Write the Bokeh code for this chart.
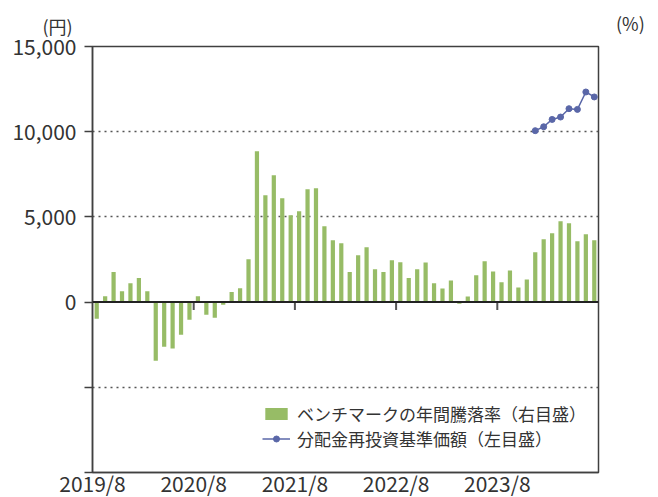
from bokeh.plotting import figure
from bokeh.models import (Range1d, LinearAxis, FixedTicker, Span, Legend, LegendItem, Title)
from bokeh.embed import file_html
from bokeh.resources import INLINE

# ---- data ----
bench_pct = [-9.8, 3.5, 17.6, 6.4, 11.1, 14.1, 6.4, -34.4, -26.2, -27.3, -19.1, -10.4,
             3.5, -7.4, -9.2, -1.6, 5.9, 8.2, 25.2, 88.5, 62.7, 74.4, 60.9, 51.0,
             53.3, 66.2, 66.8, 44.5, 36.3, 34.6, 17.6, 27.5, 32.2, 19.3, 17.6, 24.6,
             23.4, 14.1, 19.3, 23.3, 11.0, 8.0, 12.7, -1.0, 3.3, 15.7, 23.9, 18.0,
             11.6, 18.6, 8.6, 13.3, 29.2, 36.9, 40.4, 47.5, 46.3, 35.7, 39.8, 36.3]
nav_start_month = 52
nav_values = [10060, 10290, 10720, 10860, 11350, 11310, 12330, 12040]

x_tick_pos = [0, 12, 24, 36, 48]
x_tick_labels = ["2019/8", "2020/8", "2021/8", "2022/8", "2023/8"]
left_ticks = [-10000, -5000, 0, 5000, 10000, 15000]
left_labels = ["", "", "0", "5,000", "10,000", "15,000"]
right_ticks = [-100, -50, 0, 50, 100, 150]
right_labels = ["-100", "-50", "0", "50", "100", "150"]
grid_ticks = [-5000, 5000, 10000]
legend_labels = ["ベンチマークの年間騰落率（右目盛）", "分配金再投資基準価額（左目盛）"]
unit_left = "(円)"
unit_right = "(%)"

FONT = "Noto Sans CJK JP"
TXT = "#333333"
AX = "#404040"
GREEN = "#97bc66"
BLUE = "#5a67a8"

n = len(bench_pct)
bar_x = [i + 0.5 for i in range(n)]
nav_x = [nav_start_month + i + 0.5 for i in range(len(nav_values))]

p = figure(frame_width=506, frame_height=426, output_backend="svg", toolbar_location=None,
           x_range=Range1d(0, n), y_range=Range1d(-10000, 15000),
           min_border_left=92, min_border_right=60, min_border_top=46, min_border_bottom=25,
           background_fill_color="white", border_fill_color="white")
p.extra_y_ranges = {"pct": Range1d(-100, 150)}

p.outline_line_color = AX
p.outline_line_width = 1.5
p.xgrid.visible = False
p.ygrid.ticker = FixedTicker(ticks=grid_ticks)
p.ygrid.grid_line_color = "#555555"
p.ygrid.grid_line_dash = "2 4"
p.ygrid.grid_line_width = 1.5

# bars
bars = p.vbar(x=bar_x, top=bench_pct, bottom=0, width=0.5, y_range_name="pct",
              fill_color=GREEN, line_color=None)

# zero line
p.add_layout(Span(location=0, dimension="width", line_color="#222222", line_width=2))

# ticks on zero line
tick_len = 25000 / 426 * 8
p.segment(x0=x_tick_pos[1:], y0=[0] * (len(x_tick_pos) - 1), x1=x_tick_pos[1:],
          y1=[-tick_len] * (len(x_tick_pos) - 1), line_color="#555555", line_width=2)

# NAV line
nav_line = p.line(nav_x, nav_values, line_color=BLUE, line_width=1.5)
nav_pts = p.scatter(nav_x, nav_values, size=6, fill_color=BLUE, line_color=BLUE)

# axes
def style_axis(ax):
    ax.axis_line_color = AX
    ax.axis_line_width = 1.5
    ax.major_tick_line_color = AX
    ax.major_tick_line_width = 1.5
    ax.minor_tick_line_color = None
    ax.major_label_text_font = FONT
    ax.major_label_text_font_size = "21px"
    ax.major_label_text_color = TXT

p.yaxis.ticker = FixedTicker(ticks=left_ticks)
p.yaxis.major_label_overrides = dict(zip(left_ticks, left_labels))
p.yaxis.major_tick_out = 8
p.yaxis.major_tick_in = 0
p.yaxis.major_label_standoff = 8
style_axis(p.yaxis[0])

# unit label, right: zero-size legend placed in the right panel next to the frame,
# added before the right axis so that it starts at the frame's right edge
unit_dummy = p.scatter(x=[], y=[], size=0, fill_alpha=0, line_alpha=0)
units = Legend(items=[LegendItem(label=unit_right, renderers=[unit_dummy])],
               location=(0, 436))
units.label_text_font = FONT
units.label_text_font_size = "18px"
units.label_text_color = TXT
units.glyph_width = 18
units.glyph_height = 26
units.label_width = 40
units.label_height = 26
units.label_standoff = 0
units.spacing = 0
units.padding = 0
units.margin = -29
units.border_line_color = None
units.background_fill_alpha = 0
p.add_layout(units, "right")

ra = LinearAxis(y_range_name="pct", ticker=FixedTicker(ticks=right_ticks))
ra.major_label_overrides = dict(zip(right_ticks, right_labels))
ra.major_tick_out = 10
ra.major_tick_in = 0
ra.major_label_standoff = 5
style_axis(ra)
p.add_layout(ra, "right")

p.xaxis.ticker = FixedTicker(ticks=x_tick_pos)
p.xaxis.major_label_overrides = dict(zip(x_tick_pos, x_tick_labels))
p.xaxis.major_tick_out = 0
p.xaxis.major_tick_in = 0
p.xaxis.major_label_standoff = -5
style_axis(p.xaxis[0])

# unit label, left: title in the top panel
t = Title(text=unit_left, align="left", offset=-50, text_font=FONT, text_font_size="18px",
          text_color=TXT, text_font_style="normal", standoff=16)
p.add_layout(t, "above")

legend = Legend(items=[LegendItem(label=legend_labels[0], renderers=[bars]),
                       LegendItem(label=legend_labels[1], renderers=[nav_line, nav_pts])],
                location=(170, 21))
legend.label_text_font = FONT
legend.label_text_font_size = "17px"
legend.label_text_color = TXT
legend.glyph_width = 28
legend.glyph_height = 15
legend.label_height = 22
legend.label_standoff = 7
legend.spacing = 0
legend.padding = 0
legend.margin = 0
legend.border_line_color = None
legend.background_fill_alpha = 0
p.add_layout(legend)

open("out.html", "w").write(file_html(p, INLINE))
